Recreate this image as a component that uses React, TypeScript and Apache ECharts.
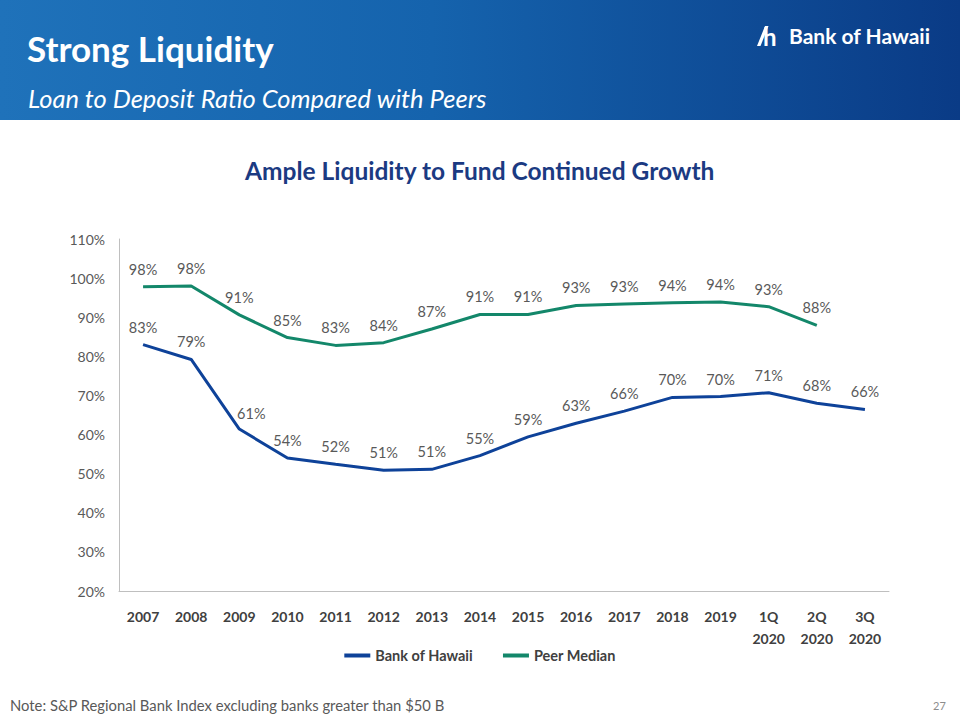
import React, { useEffect, useRef } from "react";
import * as echarts from "echarts";

const categories = ["2007", "2008", "2009", "2010", "2011", "2012", "2013", "2014", "2015", "2016", "2017", "2018", "2019", "1Q\n2020", "2Q\n2020", "3Q\n2020"];
const bankOfHawaii = [83.0, 79.2, 61.4, 54.0, 52.4, 50.9, 51.1, 54.6, 59.4, 62.9, 66.0, 69.5, 69.7, 70.7, 68.0, 66.4];
const peerMedian: (number | null)[] = [97.8, 98.0, 90.6, 84.8, 82.8, 83.5, 87.0, 90.7, 90.7, 93.0, 93.4, 93.7, 93.9, 92.7, 87.9, null];
const yTicks = { min: 20, max: 110, interval: 10 };

const FONT = "Lato, 'Open Sans', sans-serif";

export default function App() {
  const ref = useRef<HTMLDivElement>(null);
  useEffect(() => {
    if (!ref.current) return;
    const chart = echarts.init(ref.current, undefined, { renderer: "svg" });
    const labelStyle = {
      show: true,
      position: "top" as const,
      distance: 10,
      color: "#595959",
      fontSize: 14.5,
      fontFamily: FONT,
      formatter: (p: any) => Math.round(p.value) + "%",
    };
    const bohData = bankOfHawaii.map((v, i) =>
      i === 2 ? { value: v, label: { offset: [12, 2] } } : v
    );
    chart.setOption({
      animation: false,
      backgroundColor: "#ffffff",
      textStyle: { fontFamily: FONT },
      graphic: [
        {
          type: "rect",
          shape: { x: 0, y: 0, width: 960, height: 120 },
          style: {
            fill: new echarts.graphic.LinearGradient(0, 0, 1, 0, [
              { offset: 0, color: "#1f72ba" },
              { offset: 0.45, color: "#1563ad" },
              { offset: 1, color: "#0a3b86" },
            ]),
          },
          silent: true,
        },
        {
          type: "text",
          left: 27,
          top: 30,
          style: { text: "Strong Liquidity", fill: "#ffffff", font: "bold 35px " + FONT },
        },
        {
          type: "text",
          left: 28,
          top: 85,
          style: { text: "Loan to Deposit Ratio Compared with Peers", fill: "#ffffff", font: "italic 25.5px " + FONT },
        },
        {
          type: "polygon",
          shape: { points: [[757, 46], [765, 26], [768.5, 26], [760.5, 46]] },
          style: { fill: "#ffffff" },
        },
        {
          type: "text",
          left: 763,
          top: 24,
          style: { text: "h", fill: "#ffffff", font: "bold 24px " + FONT },
        },
        {
          type: "text",
          left: 789,
          top: 25,
          style: { text: "Bank of Hawaii", fill: "#ffffff", font: "bold 21px " + FONT },
        },
        {
          type: "text",
          left: "center",
          top: 158,
          style: { text: "Ample Liquidity to Fund Continued Growth", fill: "#1b3a82", font: "bold 24.5px " + FONT },
        },
        {
          type: "text",
          left: 10,
          top: 697,
          style: { text: "Note: S&P Regional Bank Index excluding banks greater than $50 B", fill: "#595959", font: "14.8px " + FONT },
        },
        {
          type: "text",
          left: 933,
          top: 700,
          style: { text: "27", fill: "#8c8c8c", font: "11px " + FONT },
        },
      ],
      grid: { left: 119, right: 71, top: 239, bottom: 129, containLabel: false },
      legend: {
        bottom: 52,
        left: "center",
        itemWidth: 26,
        itemHeight: 4,
        itemGap: 30,
        icon: "rect",
        textStyle: { color: "#404040", fontSize: 14.5, fontWeight: "bold", fontFamily: FONT },
        data: ["Bank of Hawaii", "Peer Median"],
      },
      xAxis: {
        type: "category",
        data: categories,
        boundaryGap: true,
        axisLine: { lineStyle: { color: "#bfbfbf" } },
        axisTick: { show: false },
        axisLabel: { color: "#404040", fontSize: 14, fontWeight: "bold", margin: 14, lineHeight: 22, fontFamily: FONT },
      },
      yAxis: {
        type: "value",
        min: yTicks.min,
        max: yTicks.max,
        interval: yTicks.interval,
        axisLine: { show: true, lineStyle: { color: "#bfbfbf" } },
        axisTick: { show: false },
        splitLine: { show: false },
        axisLabel: { color: "#595959", fontSize: 14, margin: 14, formatter: "{value}%", fontFamily: FONT },
      },
      series: [
        {
          name: "Bank of Hawaii",
          type: "line",
          data: bohData,
          symbol: "circle",
          symbolSize: 0.1,
          showSymbol: true,
          lineStyle: { color: "#0e4299", width: 3 },
          itemStyle: { color: "#0e4299" },
          label: labelStyle,
        },
        {
          name: "Peer Median",
          type: "line",
          data: peerMedian,
          symbol: "circle",
          symbolSize: 0.1,
          showSymbol: true,
          lineStyle: { color: "#13876a", width: 3 },
          itemStyle: { color: "#13876a" },
          label: labelStyle,
        },
      ],
    });
    return () => chart.dispose();
  }, []);
  return <div ref={ref} style={{ position: "absolute", left: 0, top: 0, width: 960, height: 720 }} />;
}
